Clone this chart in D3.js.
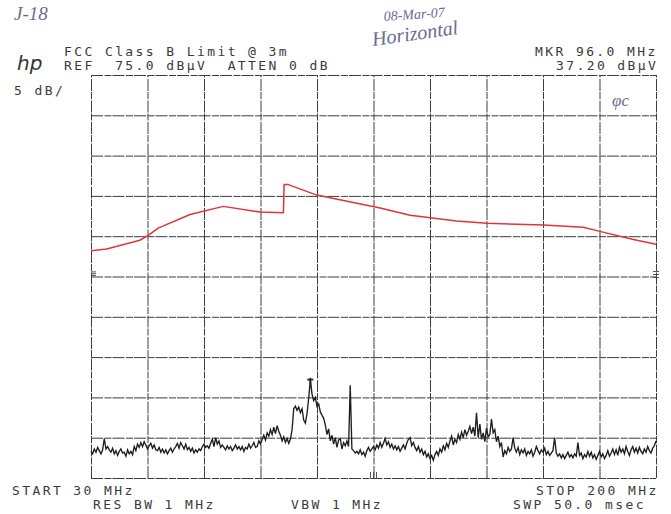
<!DOCTYPE html>
<html>
<head>
<meta charset="utf-8">
<script src="https://cdn.jsdelivr.net/npm/d3@7/dist/d3.min.js"></script>
<style>
  html, body { margin: 0; padding: 0; background: #fff; }
  svg { display: block; }
  .plot-text { font-family: "DejaVu Sans Mono", monospace; font-size: 13px; letter-spacing: 2.4px; fill: #3a3a3a; white-space: pre; }
  .hand { font-family: "Liberation Serif", "DejaVu Serif", serif; font-style: italic; fill: #6a6d8a; }
</style>
</head>
<body>
<svg id="chart" width="671" height="514"></svg>
<script>
// Sweep settings
const startMHz = 30;
const stopMHz = 200;
const refLevel = 75;      // dBµV at top graticule line
const dbPerDiv = 5;
const divisions = 10;

// Limit line (FCC Class B @ 3m, corrected), frequency in MHz / level in dBµV
const limitFreq = [30, 34.7, 44.7, 47.2, 50.2, 59.8, 69.8, 80.8, 87.9, 88.1, 89.4, 97.9, 117.0, 126.0, 140.0, 149.1, 166.1, 178.1, 183.1, 193.2, 200];
const limitLevel = [53.2, 53.4, 54.5, 55.1, 56.0, 57.7, 58.7, 58.0, 57.9, 61.4, 61.4, 60.1, 58.5, 57.6, 56.9, 56.6, 56.4, 56.1, 55.6, 54.6, 54.0];

// Measured sweep: one reading every 0.5 MHz from 30 MHz to 200 MHz
const traceStep = 0.5;
const traceLevel = [
  28.3, 28.0, 28.6, 28.2, 28.8, 28.4, 28.0, 28.5, 29.9, 28.6,
  28.9, 28.5, 28.2, 28.7, 28.0, 28.4, 27.8, 28.3, 28.6, 28.1,
  28.2, 27.7, 28.5, 28.0, 28.3, 27.9, 28.9, 28.4, 29.2, 28.8,
  29.4, 28.9, 29.5, 29.1, 28.6, 29.0, 29.3, 28.7, 29.1, 28.5,
  28.4, 28.8, 28.2, 28.6, 28.1, 28.5, 28.0, 28.4, 28.7, 28.2,
  28.6, 28.9, 29.3, 28.7, 29.4, 29.0, 28.6, 29.2, 28.5, 28.8,
  28.3, 28.7, 28.1, 28.5, 28.2, 28.6, 28.4, 28.9, 29.2, 28.8,
  29.0, 28.7, 29.3, 29.8, 28.9, 30.0, 29.2, 29.6, 28.8, 29.1,
  28.8, 28.5, 29.0, 28.6, 28.9, 28.4, 28.7, 29.1, 28.6, 28.9,
  28.5, 28.9, 28.3, 28.8, 28.6, 29.2, 28.7, 29.0, 29.4, 28.8,
  28.9, 29.6, 29.2, 29.8, 30.3, 29.7, 30.6, 30.2, 31.0, 30.4,
  31.3, 30.5, 31.5, 30.8, 30.3, 29.6, 30.1, 29.4, 29.9, 29.3,
  29.8, 31.0, 33.6, 33.9, 33.4, 33.8, 33.1, 33.6, 32.2, 31.8,
  33.0, 34.9, 37.2, 35.4, 34.6, 35.0, 33.9, 34.2, 33.2, 32.8,
  32.4, 31.6, 30.4, 31.1, 29.6, 30.3, 29.2, 30.0, 28.8, 29.7,
  29.9, 28.6, 29.4, 29.0, 29.6, 28.9, 36.5, 28.6, 28.4, 28.1,
  28.3, 28.0, 28.5, 27.9, 28.2, 27.7, 28.4, 28.8, 28.3, 28.6,
  28.9, 28.5, 29.1, 28.7, 29.4, 28.8, 29.3, 29.9, 29.1, 29.5,
  28.8, 29.2, 28.6, 29.0, 28.5, 28.9, 28.3, 28.7, 29.1, 28.6,
  29.3, 29.8, 30.0, 29.0, 29.4, 28.8, 28.4, 28.9, 28.2, 28.6,
  27.9, 28.3, 27.6, 28.0, 27.4, 27.8, 27.2, 27.9, 28.3, 27.8,
  28.6, 28.2, 29.0, 28.5, 29.3, 28.8, 29.6, 30.2, 29.1, 29.8,
  29.4, 30.4, 29.8, 30.7, 30.0, 31.0, 30.3, 30.8, 31.4, 30.5,
  31.3, 30.2, 33.1, 30.0, 31.7, 29.8, 30.6, 29.5, 31.2, 30.1,
  30.4, 32.3, 30.6, 31.0, 29.5, 30.2, 28.9, 29.4, 27.6, 28.4,
  28.0, 28.8, 28.3, 28.6, 30.0, 28.7, 28.2, 28.8, 27.9, 28.5,
  28.1, 28.6, 27.8, 28.3, 28.0, 28.5, 27.7, 28.2, 28.9, 28.4,
  28.0, 28.5, 28.2, 28.7, 27.9, 28.3, 27.8, 28.1, 28.4, 30.0,
  28.1, 27.7, 28.0, 27.5, 27.9, 27.4, 27.8, 28.2, 27.6, 27.9,
  27.5, 28.0, 27.7, 29.4, 27.8, 28.1, 27.4, 27.9, 27.6, 28.3,
  27.7, 28.2, 27.5, 27.9, 27.3, 27.8, 28.3, 27.6, 28.0, 27.4,
  27.8, 28.4, 27.7, 28.1, 28.6, 27.9, 28.5, 27.8, 28.8, 28.2,
  28.6, 28.0, 28.9, 28.3, 27.8, 28.5, 28.9, 28.2, 28.7, 28.1,
  28.8, 28.3, 28.0, 28.6, 28.2, 28.9, 28.4, 28.1, 28.7, 29.0,
  29.6
];

// Marker readout
const markerFreq = 96.0;
const markerLevel = 37.20;

// Annotation strings
const headerLeft = ["FCC Class B Limit @ 3m", "REF  75.0 dBµV  ATTEN 0 dB"];
const headerRight = ["MKR 96.0 MHz", "37.20 dBµV"];
const footerTop = ["START 30 MHz", "STOP 200 MHz"];
const footerBottom = ["RES BW 1 MHz", "VBW 1 MHz", "SWP 50.0 msec"];

const svg = d3.select("#chart");
const plot = { left: 91, right: 656, top: 75, bottom: 478 };

const x = d3.scaleLinear().domain([startMHz, stopMHz]).range([plot.left, plot.right]);
const y = d3.scaleLinear().domain([refLevel - dbPerDiv * divisions, refLevel]).range([plot.bottom, plot.top]);

const xTicks = d3.range(divisions + 1).map(i => startMHz + i * (stopMHz - startMHz) / divisions);
const yTicks = d3.range(divisions + 1).map(i => refLevel - i * dbPerDiv);

// Graticule drawn with axes (no labels)
const gridX = svg.append("g")
  .attr("transform", `translate(0,${plot.bottom})`)
  .call(d3.axisBottom(x).tickValues(xTicks).tickSize(-(plot.bottom - plot.top)).tickFormat(""));
const gridY = svg.append("g")
  .attr("transform", `translate(${plot.left},0)`)
  .call(d3.axisLeft(y).tickValues(yTicks).tickSize(-(plot.right - plot.left)).tickFormat(""));
[gridX, gridY].forEach(g => {
  g.select(".domain").remove();
  g.selectAll(".tick line")
    .attr("stroke", "#3c3c3c")
    .attr("stroke-width", 1)
    .attr("stroke-dasharray", "12 1.5 7 1");
});

// Small reference marks on the graticule edges
const refMarkLevel = 50;
svg.append("g").selectAll("line")
  .data([-0.6, 0, 0.6])
  .join("line")
  .attr("x1", plot.left).attr("x2", plot.left + 5)
  .attr("y1", d => y(refMarkLevel + 0.35) + d * 3)
  .attr("y2", d => y(refMarkLevel + 0.35) + d * 3)
  .attr("stroke", "#444").attr("stroke-width", 0.9);
svg.append("g").selectAll("line")
  .data([-1, 0, 1])
  .join("line")
  .attr("x1", plot.right - 3).attr("x2", plot.right + 3)
  .attr("y1", d => y(refMarkLevel) + d * 3 - 2)
  .attr("y2", d => y(refMarkLevel) + d * 3 - 2)
  .attr("stroke", "#444").attr("stroke-width", 0.9);
const centerMHz = (startMHz + stopMHz) / 2;
svg.append("path")
  .attr("d", `M${x(centerMHz) - 3},${plot.bottom - 6}V${plot.bottom}M${x(centerMHz)},${plot.bottom - 6}V${plot.bottom}M${x(centerMHz) + 3},${plot.bottom - 6}V${plot.bottom}`)
  .attr("stroke", "#444").attr("stroke-width", 0.9).attr("fill", "none");

// Limit line
svg.append("path")
  .datum(limitFreq.map((f, i) => [f, limitLevel[i]]))
  .attr("fill", "none")
  .attr("stroke", "#e0343a")
  .attr("stroke-width", 1.5)
  .attr("stroke-linejoin", "round")
  .attr("d", d3.line().x(d => x(d[0])).y(d => y(d[1])));

// Measured trace
svg.append("path")
  .datum(traceLevel.map((v, i) => [startMHz + i * traceStep, v]))
  .attr("fill", "none")
  .attr("stroke", "#1e1e1e")
  .attr("stroke-width", 1.35)
  .attr("stroke-linejoin", "miter")
  .attr("d", d3.line().x(d => x(d[0])).y(d => y(d[1])));

// Marker symbol at the peak
const mx = x(markerFreq), my = y(markerLevel);
svg.append("path")
  .attr("d", `M${mx - 3},${my}H${mx + 3}M${mx},${my - 2}V${my + 4}`)
  .attr("stroke", "#1e1e1e").attr("stroke-width", 1.6).attr("fill", "none");

// Plotter annotations
const txt = (s, px, py) => svg.append("text").attr("class", "plot-text").attr("x", px).attr("y", py).text(s);
txt(headerLeft[0], 64, 56);
txt(headerLeft[1], 64, 70);
txt(headerRight[0], 535, 56);
txt(headerRight[1], 556, 70);
txt("5 dB/", 14, 95);
txt(footerTop[0], 12, 495);
txt(footerTop[1], 536, 495);
txt(footerBottom[0], 93, 509);
txt(footerBottom[1], 291, 509);
txt(footerBottom[2], 513, 509);

// Instrument logo
svg.append("text")
  .attr("x", 17).attr("y", 70)
  .attr("font-family", "DejaVu Sans, sans-serif")
  .attr("font-style", "italic")
  .attr("font-weight", "300")
  .attr("font-size", 20)
  .attr("fill", "#333")
  .text("hp");

// Pencil notes
svg.append("text").attr("class", "hand").attr("x", 14).attr("y", 20).attr("font-size", 19).text("J-18");
svg.append("text").attr("class", "hand").attr("x", 384).attr("y", 21).attr("font-size", 14)
  .attr("transform", "rotate(-4 384 21)").text("08-Mar-07");
svg.append("text").attr("class", "hand").attr("x", 373).attr("y", 46).attr("font-size", 20)
  .attr("transform", "rotate(-8 373 46)").text("Horizontal");
svg.append("text").attr("class", "hand").attr("x", 612).attr("y", 106).attr("font-size", 17).text("φc");
</script>
</body>
</html>
